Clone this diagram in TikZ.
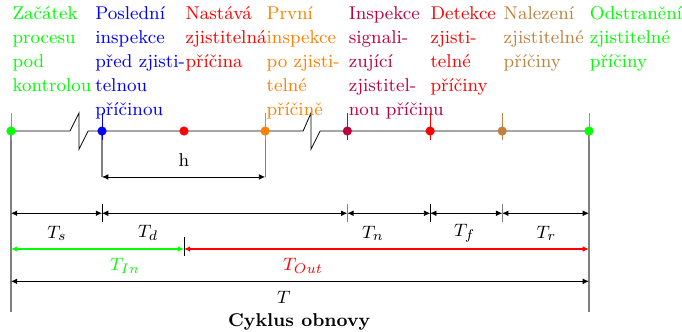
\documentclass[tikz,border=0pt]{standalone}
\usepackage{tikz}
\usetikzlibrary{positioning,arrows.meta}

\begin{document}
\begin{tikzpicture}[
  every node/.style={font=\fontsize{9.3}{12}\selectfont},
  desc/.style={anchor=north west, inner sep=0pt, align=left},
  dot/.style={circle, fill, inner sep=0pt, minimum size=4.6pt},
  dim/.style={{Latex[length=1.1mm,width=1mm]}-{Latex[length=1.1mm,width=1mm]}},
  guide/.style={gray, semithick},
  lab/.style={inner sep=1pt}]
\useasboundingbox (-0.194,-3.53) rectangle (11.83,2.31);

% body of the time axis
\coordinate (zac) at (0,0);
\coordinate (pos) at (1.605,0);
\coordinate (nas) at (3.05,0);
\coordinate (prv) at (4.48,0);
\coordinate (ins) at (5.93,0);
\coordinate (det) at (7.39,0);
\coordinate (nal) at (8.66,0);
\coordinate (ods) at (10.19,0);

\draw (zac) -- (1.04,0) -- (1.20,0.32) -- (1.20,-0.32) -- (1.36,0) -- (pos) -- (nas) -- (prv)
  -- (5.15,0) -- (5.29,0.32) -- (5.29,-0.32) -- (5.45,0) -- (ins) -- (det) -- (nal) -- (ods);

% guide lines
\draw[guide] (zac) -- (0,-3.19);
\draw[guide] (ods) -- (10.19,-3.19);
\draw[guide] (pos) -- (1.605,-0.81);
\draw[guide] (prv) -- (4.48,-0.81);

% events
\draw[green] (0,0.32) -- (0,-0.16);
\draw[blue] (1.605,0.32) -- (1.605,-0.16);
\draw[orange] (4.48,0.32) -- (4.48,-0.16);
\draw[purple] (5.93,0.32) -- (5.93,-0.16);
\draw[red] (7.39,0.32) -- (7.39,-0.16);
\draw[brown] (8.66,0.32) -- (8.66,-0.16);
\draw[green] (10.19,0.32) -- (10.19,-0.16);
\node[dot, green] (d1) at (zac) {};
\node[dot, blue] (d2) at (pos) {};
\node[dot, red] (d3) at (nas) {};
\node[dot, orange] (d4) at (prv) {};
\node[dot, purple] (d5) at (ins) {};
\node[dot, red] (d6) at (det) {};
\node[dot, brown] (d7) at (nal) {};
\node[dot, green] (d8) at (ods) {};

\node[desc, green] (t1) at (0.02,2.2) {Začátek\\procesu\\pod\\kontrolou};
\node[desc, blue] (t2) at (1.48,2.2) {Poslední\\inspekce\\před zjisti-\\telnou\\příčinou};
\node[desc, red] (t3) at (3.07,2.2) {Nastává\\zjistitelná\\příčina};
\node[desc, orange] (t4) at (4.5,2.2) {První\\inspekce\\po zjisti-\\telné\\příčině};
\node[desc, purple] (t5) at (5.95,2.2) {Inspekce\\signali-\\zující\\zjistitel-\\nou příčinu};
\node[desc, red] (t6) at (7.39,2.2) {Detekce\\zjisti-\\telné\\příčiny};
\node[desc, brown] (t7) at (8.68,2.2) {Nalezení\\zjistitelné\\příčiny};
\node[desc, green] (t8) at (10.2,2.2) {Odstranění\\zjistitelné\\příčiny};

% h
\coordinate (h1) at (1.605,-0.81);
\coordinate (h2) at (4.48,-0.81);
\draw[dim] (h1) -- (h2);
\node[lab] (h) at (3.05,-0.51) {h};

% periods
\coordinate (s0) at (0,-1.45);
\coordinate (s1) at (1.605,-1.45);
\coordinate (s2) at (5.93,-1.45);
\coordinate (s3) at (7.39,-1.45);
\coordinate (s4) at (8.66,-1.45);
\coordinate (s5) at (10.19,-1.45);
\draw[dim] (s0) -- (s1);
\draw[dim] (s1) -- (s2);
\draw[dim] (s2) -- (s3);
\draw[dim] (s3) -- (s4);
\draw[dim] (s4) -- (s5);
\draw (1.605,-1.29) -- (1.605,-1.61);
\draw[guide] (5.93,-1.29) -- (5.93,-1.61);
\draw (7.39,-1.29) -- (7.39,-1.61);
\draw[guide] (8.66,-1.29) -- (8.66,-1.61);
\node[lab] (ts) at (0.81,-1.80) {$T_s$};
\node[lab] (td) at (2.42,-1.80) {$T_d$};
\node[lab] (tn) at (6.38,-1.80) {$T_n$};
\node[lab] (tf) at (8.0,-1.80) {$T_f$};
\node[lab] (tr) at (9.44,-1.80) {$T_r$};

\coordinate (u0) at (0,-2.08);
\coordinate (u1) at (3.05,-2.08);
\coordinate (u2) at (10.19,-2.08);
\draw[dim, green, semithick] (u0) -- (u1);
\draw[dim, red, semithick] (u1) -- (u2);
\draw (3.05,-1.87) -- (3.05,-2.20);
\node[lab, green] (tin) at (2.01,-2.38) {$T_{In}$};
\node[lab, red] (tout) at (5.15,-2.38) {$T_{Out}$};

\coordinate (w0) at (0,-2.65);
\coordinate (w1) at (10.19,-2.65);
\draw[dim] (w0) -- (w1);
\node[lab] (tt) at (4.81,-2.93) {$T$};
\node[lab, font=\fontsize{9.3}{12}\selectfont\bfseries] (cyk) at (5.08,-3.37) {Cyklus obnovy};
\end{tikzpicture}
\end{document}
